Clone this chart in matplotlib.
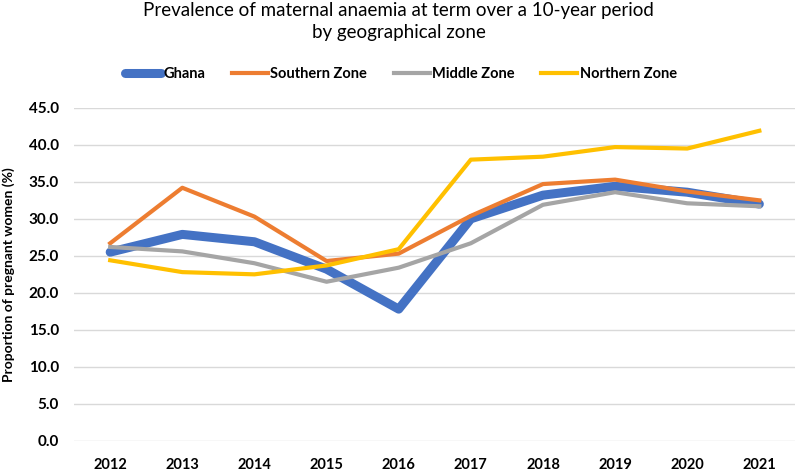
#!/usr/bin/env python3

import matplotlib
matplotlib.use("Agg")
import matplotlib.pyplot as plt

years = ["2012", "2013", "2014", "2015", "2016", "2017", "2018", "2019", "2020", "2021"]
ghana = [25.5, 27.9, 26.9, 23.2, 17.8, 30.0, 33.2, 34.4, 33.6, 32.0]
southern = [26.7, 34.2, 30.3, 24.3, 25.3, 30.4, 34.7, 35.3, 33.7, 32.5]
middle = [26.2, 25.6, 24.0, 21.5, 23.4, 26.7, 31.9, 33.6, 32.1, 31.7]
northern = [24.4, 22.8, 22.5, 23.7, 25.9, 38.0, 38.4, 39.7, 39.5, 41.9]

plt.rcParams['font.family'] = ['Lato', 'DejaVu Sans']

fig = plt.figure(figsize=(7.97, 4.73), dpi=100)
ax = fig.add_axes([0.093, 0.068, 0.905, 0.704])

x = range(len(years))
ax.plot(x, ghana, color="#4472C4", lw=6.5, label="Ghana", solid_capstyle="round")
ax.plot(x, southern, color="#ED7D31", lw=3, label="Southern Zone")
ax.plot(x, middle, color="#A5A5A5", lw=3, label="Middle Zone")
ax.plot(x, northern, color="#FFC000", lw=3, label="Northern Zone")

ax.set_xlim(-0.5, len(years) - 0.5)
ax.set_ylim(0, 45)
ax.set_yticks(range(0, 46, 5))
ax.set_yticklabels(["%.1f" % v for v in range(0, 46, 5)])
ax.set_xticks(list(x))
ax.set_xticklabels(years)
ax.grid(axis="y", color="#D9D9D9", lw=1)
ax.set_axisbelow(True)
for s in ax.spines.values():
    s.set_visible(False)
ax.tick_params(length=0)
ax.tick_params(axis="x", pad=12, labelsize=10.5)
ax.tick_params(axis="y", pad=11, labelsize=11)
for lab in ax.get_xticklabels() + ax.get_yticklabels():
    lab.set_fontweight("bold")
ax.set_ylabel("Proportion of pregnant women (%)", fontsize=10, fontweight="bold", labelpad=10)

fig.suptitle("Prevalence of maternal anaemia at term over a 10-year period\nby geographical zone",
             fontsize=13.5, y=0.995, linespacing=1.35)
fig.legend(loc="center", bbox_to_anchor=(0.503, 0.843), ncol=4, frameon=False,
           prop={"weight": "bold", "size": 10.5}, handlelength=2.5, handletextpad=0.15,
           columnspacing=1.8)

fig.savefig("out.png", dpi=100)
